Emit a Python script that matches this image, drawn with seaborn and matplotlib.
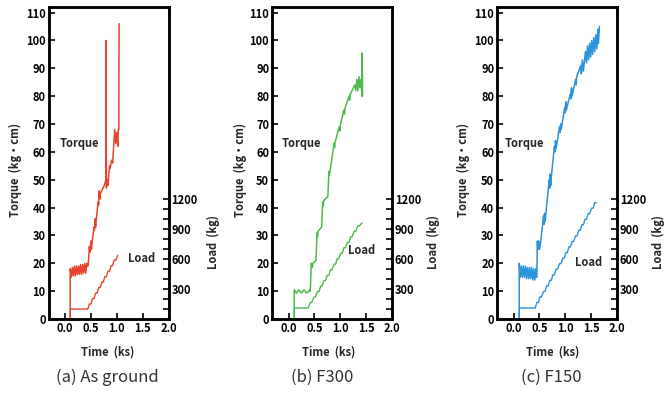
import matplotlib
matplotlib.use("Agg")
import matplotlib.pyplot as plt
import seaborn as sns
import pandas as pd

sns.set_theme(style="white")
plt.rcParams['font.family'] = ['Noto Sans CJK JP', 'DejaVu Sans']

# ---------------- data ----------------
x_ticks = [0.0, 0.5, 1.0, 1.5, 2.0]
x_tick_labels = ["0.0", "0.5", "1.0", "1.5", "2.0"]
torque_ticks = [0, 10, 20, 30, 40, 50, 60, 70, 80, 90, 100, 110]
load_ticks = [0, 100, 200, 300, 400, 500, 600, 700, 800, 900, 1000, 1100, 1200]
load_tick_labels = ["", "", "", "300", "", "", "600", "", "", "900", "", "", "1200"]
captions = ["(a) As ground", "(b) F300", "(c) F150"]
colors = ["#e8432d", "#4dba4a", "#2b93dc"]

# (a) As ground
a_torque_t = [-0.32, 0.10, 0.10, 0.12, 0.14, 0.16, 0.18, 0.20, 0.22, 0.24, 0.26, 0.28, 0.30,
              0.32, 0.34, 0.36, 0.38, 0.40, 0.42, 0.44, 0.45, 0.47, 0.48, 0.50, 0.51, 0.52,
              0.56, 0.57, 0.58, 0.59, 0.60, 0.64, 0.65, 0.66, 0.67, 0.68, 0.76, 0.79, 0.79,
              0.80, 0.82, 0.83, 0.86, 0.87, 0.90, 0.92, 0.94, 0.96, 0.98, 1.00, 1.02, 1.03,
              1.04, 1.04, 1.045]
a_torque_v = [0, 0, 18, 15, 18.5, 15.5, 19, 15.5, 19, 16, 19, 16, 19.5,
              16, 19.5, 16.5, 20, 16.5, 20, 19, 20, 26, 24, 28, 25, 27,
              33, 32, 36, 33, 35, 42, 41, 46, 43, 45, 48, 50, 100,
              47, 50, 48, 55, 54, 57, 56, 62, 68, 63, 67, 62, 68,
              68, 79, 106]
a_load_t = [0.10, 0.10, 0.44, 0.47, 0.50, 0.53, 0.56, 0.59, 0.62, 0.65, 0.68, 0.71, 0.74,
            0.77, 0.80, 0.83, 0.86, 0.89, 0.92, 0.95, 0.98, 1.02]
a_load_v = [0, 100, 100, 150, 150, 205, 205, 260, 260, 315, 315, 370, 370,
            425, 425, 480, 480, 535, 535, 590, 590, 640]

# (b) F300
b_torque_t = [0.08, 0.11, 0.11, 0.15, 0.20, 0.25, 0.30, 0.35, 0.42, 0.42, 0.44, 0.46, 0.47,
              0.53, 0.55, 0.56, 0.57, 0.64, 0.66, 0.67, 0.68, 0.76, 0.78, 0.79, 0.88, 0.89,
              0.90, 0.98, 0.99, 1.00, 1.07, 1.08, 1.09, 1.17, 1.18, 1.19, 1.28, 1.30, 1.32,
              1.34, 1.36, 1.38, 1.40, 1.42, 1.42, 1.43, 1.43]
b_torque_v = [0, 0, 10.5, 9.3, 10.5, 9.3, 10.5, 9.3, 10.5, 10, 20, 18.5, 20,
              21, 31, 29.5, 31.5, 33, 42, 40.5, 42.5, 44, 53, 51.5, 63, 61.5,
              63.5, 69, 67.5, 69.5, 75, 73.5, 75.5, 80, 78.5, 80.5, 84, 82, 86,
              82, 87, 83, 86, 80, 95.5, 85, 80]
b_load_t = [0.11, 0.11, 0.38, 0.42, 0.45, 0.49, 0.52, 0.56, 0.59, 0.62, 0.65, 0.68, 0.71,
            0.75, 0.78, 0.81, 0.84, 0.88, 0.91, 0.94, 0.97, 1.01, 1.04, 1.07, 1.10, 1.14,
            1.17, 1.20, 1.23, 1.27, 1.30, 1.34, 1.37, 1.42]
b_load_v = [0, 110, 110, 165, 165, 220, 220, 275, 275, 330, 330, 385, 385,
            440, 440, 495, 495, 550, 550, 605, 605, 660, 660, 715, 715, 770,
            770, 825, 825, 880, 880, 935, 935, 965]

# (c) F150
c_torque_t = [-0.32, 0.11, 0.11, 0.13, 0.15, 0.17, 0.19, 0.21, 0.23, 0.25, 0.27, 0.29, 0.31,
              0.33, 0.35, 0.37, 0.39, 0.41, 0.43, 0.44, 0.45, 0.46, 0.47, 0.49, 0.50, 0.52,
              0.58, 0.59, 0.60, 0.61, 0.62, 0.69, 0.70, 0.71, 0.72, 0.73, 0.79, 0.80, 0.81,
              0.82, 0.89, 0.90, 0.91, 0.92, 0.99, 1.00, 1.01, 1.02, 1.10, 1.11, 1.12, 1.13,
              1.20, 1.21, 1.22, 1.30, 1.31, 1.33, 1.35, 1.39, 1.41, 1.43, 1.45, 1.47, 1.49,
              1.51, 1.53, 1.55, 1.57, 1.59, 1.61, 1.63, 1.64, 1.66]
c_torque_v = [0, 0, 20, 15, 19, 15, 19, 15, 19, 14.5, 18.5, 14.5, 18.5,
              14.5, 18.5, 14, 18, 14, 18, 15, 15, 28, 25, 28, 25, 27,
              37, 34, 38, 35, 37, 50, 47, 52, 48, 51, 62, 60, 64,
              61, 69, 67, 70, 68, 76, 74, 78, 75, 81, 79, 83, 80,
              86, 84, 87, 91, 88, 93, 89, 96, 92, 98, 93, 99, 94,
              100, 95, 101, 96, 102, 97, 104, 99, 105]
c_load_t = [0.11, 0.11, 0.42, 0.45, 0.48, 0.51, 0.54, 0.58, 0.61, 0.64, 0.67, 0.70, 0.73,
            0.76, 0.79, 0.82, 0.85, 0.89, 0.92, 0.95, 0.98, 1.01, 1.04, 1.07, 1.10, 1.13,
            1.16, 1.20, 1.23, 1.26, 1.29, 1.32, 1.35, 1.38, 1.41, 1.44, 1.47, 1.51, 1.54,
            1.57, 1.60]
c_load_v = [0, 110, 110, 166, 166, 221, 221, 277, 277, 333, 333, 388, 388,
            444, 444, 500, 500, 556, 556, 611, 611, 667, 667, 723, 723, 778,
            778, 834, 834, 890, 890, 945, 945, 1001, 1001, 1057, 1057, 1112, 1112,
            1168, 1168]

panels = [
    (a_torque_t, a_torque_v, a_load_t, a_load_v),
    (b_torque_t, b_torque_v, b_load_t, b_load_v),
    (c_torque_t, c_torque_v, c_load_t, c_load_v),
]

# ---------------- layout (pixels) ----------------
W, H = 667, 401
fig = plt.figure(figsize=(W / 100, H / 100), dpi=100)
fig.patch.set_facecolor("white")

lefts = [48.5, 272, 497]
pw = 120
top_px, bot_px = 7, 319
ylab_x = [15, 240, 463]
rlab_x = [213, 433, 658]
torque_txt = [(60, 143), (282, 143), (505, 144)]
load_txt = [(128, 259), (348, 251), (575, 262)]
time_cx = [108, 329, 553]
cap_cx = [107, 322, 551]

tick_font = dict(family=['Noto Sans CJK JP', 'DejaVu Sans'], weight='bold', size=8)

for i, (tt, tv, lt, lv) in enumerate(panels):
    L = lefts[i]
    ax = fig.add_axes([L / W, (H - bot_px) / H, pw / W, (bot_px - top_px) / H])
    ax2 = ax.twinx()
    ax.set_facecolor("white")
    col = colors[i]

    sns.lineplot(x=tt, y=tv, ax=ax, sort=False, estimator=None, color=col, lw=1.1)
    sns.lineplot(x=lt, y=lv, ax=ax2, sort=False, estimator=None, color=col, lw=1.0)

    ax.set_xlim(-0.32, 2.0)
    ax.set_ylim(0, 112)
    ax2.set_ylim(0, 3130)

    ax.set_xticks(x_ticks)
    ax.set_xticklabels(x_tick_labels, fontdict=tick_font)
    ax.set_yticks(torque_ticks)
    ax.set_yticklabels([str(v) for v in torque_ticks], fontdict=tick_font)
    ax2.set_yticks(load_ticks)
    ax2.set_yticklabels(load_tick_labels, fontdict=tick_font)

    for a in (ax, ax2):
        for s in a.spines.values():
            s.set_color("black")
            s.set_linewidth(1.8)
        a.set_xlabel("")
        a.set_ylabel("")
        a.grid(False)
    ax.tick_params(axis='both', direction='in', length=4, width=1.2, pad=2,
                   colors='black', left=True, bottom=True, right=False, top=False)
    ax2.tick_params(axis='y', direction='in', length=4, width=1.2, pad=2,
                    colors='black', right=True)

    # in-plot labels
    fig.text(torque_txt[i][0] / W, 1 - torque_txt[i][1] / H, "Torque",
             ha='left', va='center', **tick_font)
    fig.text(load_txt[i][0] / W, 1 - load_txt[i][1] / H, "Load",
             ha='left', va='center', **tick_font)

    # axis titles
    fig.text(ylab_x[i] / W, 1 - 170 / H, "Torque  (kg・cm)", rotation=90,
             ha='center', va='center', family=['Noto Sans CJK JP', 'DejaVu Sans'],
             weight='bold', size=8)
    fig.text(rlab_x[i] / W, 1 - 242 / H, "Load  (kg)", rotation=90,
             ha='center', va='center', family=['Noto Sans CJK JP', 'DejaVu Sans'],
             weight='bold', size=8)
    fig.text(time_cx[i] / W, 1 - 352 / H, "Time  (ks)", ha='center', va='center',
             family=['Noto Sans CJK JP', 'DejaVu Sans'], weight='bold', size=8)
    fig.text(cap_cx[i] / W, 1 - 377 / H, captions[i], ha='center', va='center',
             family=['Noto Sans CJK JP', 'DejaVu Sans'], size=12, color='#333333')

fig.savefig("out.png", dpi=100, facecolor="white")
